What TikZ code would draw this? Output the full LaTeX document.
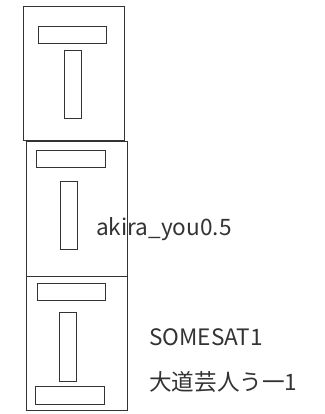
\documentclass[tikz,border=0pt]{standalone}
\usepackage{fontspec}
\setmainfont{Noto Sans CJK JP}
\begin{document}
\begin{tikzpicture}[x=1pt,y=-1pt,
  frame/.style={draw=black!80,line width=1pt},
  bar/.style={draw=black!80,line width=1pt},
  lbl/.style={anchor=base west,inner sep=0pt,text=black!80,font=\fontsize{22.6}{26}\selectfont}]
\useasboundingbox (0,0) rectangle (324,414);
% box 1
\draw[frame] (23,6.3) rectangle (124.7,140.5);
\draw[bar] (38,26.7) rectangle (106,44);
\draw[bar] (64.3,51) rectangle (81.7,119);
% box 2
\draw[frame] (26.3,141.5) rectangle (127.3,276);
\draw[bar] (36.7,150) rectangle (105.7,167.3);
\draw[bar] (60,181) rectangle (77.3,249);
% box 3
\draw[frame] (26.3,276) rectangle (127.3,410.7);
\draw[bar] (37,283) rectangle (105.7,300.3);
\draw[bar] (59,312.3) rectangle (76.3,381);
\draw[bar] (35.7,386.3) rectangle (104.3,404);
% labels
\node[lbl] (akira) at (96,235) {akira\_you0.5};
\node[lbl] (somesat) at (149,345.7) {SOMESAT1};
\node[lbl] (daido) at (149,390) {大道芸人う一1};
\end{tikzpicture}
\end{document}
